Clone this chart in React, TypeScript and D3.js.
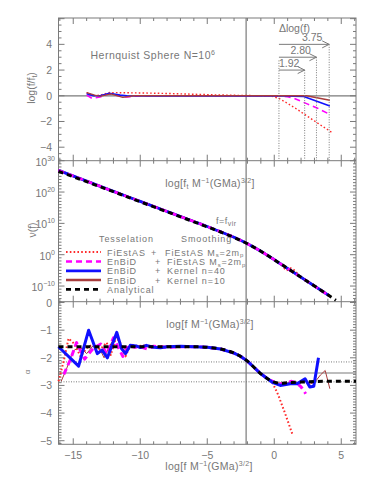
import React from "react";
import * as d3 from "d3";

/* ---- axis ticks ---- */
const X_LABELS = [-15, -10, -5, 0, 5];
const TOP_LABELS = [-4, -2, 0, 2, 4];
const MID_LABELS = [-10, 0, 10, 20, 30];
const BOT_LABELS = [-5, -4, -3, -2, -1, 0];

/* ---- top panel: log(f/f_t) ---- */
const R_RED_X = [-14, -13.5, -13, -12.3, -10, -8, -6, -4, -2, -0.3, 0.35, 1, 1.7, 2.27, 3.2, 4.3];
const R_RED = [0.25, 0.0, 0.05, 0.25, 0.22, 0.18, 0.12, 0.06, 0.02, 0.0, -0.2, -0.6, -1.05, -1.45, -2.1, -2.85];
const R_MAG_X = [-14, -13.6, -13, -12.4, -11.8, -11, -10, -6, 0, 1, 1.5, 2.5, 3.2, 4.15];
const R_MAG = [0.05, -0.2, -0.1, 0.15, 0.05, -0.1, 0.0, 0.0, 0.0, -0.08, -0.2, -0.65, -0.95, -1.45];
const R_BLUE_X = [-14, -13.5, -13, -12.3, -11.5, -11, -9, 0, 2.2, 4.15];
const R_BLUE = [0.15, 0.0, 0.0, 0.2, 0.05, 0.0, -0.02, 0.0, -0.05, -0.8];
const R_BROWN_X = [-14, -13.4, -13, -12.2, -11.3, -10.5, 0, 2.4, 4.15];
const R_BROWN = [0.25, 0.05, -0.05, 0.15, -0.12, 0.0, 0.0, 0.0, -0.35];

/* Δlog(f) markers */
const D_START = 0.35;
const D_VALUES = [1.92, 2.8, 3.75];
const D_LEVELS = [2, 3, 4];
const F_VIR = -2.1;

/* ---- middle panel: log10 nu(f) ---- */
const NU_X = [-16.1, -14, -12, -10, -8, -6, -5, -4, -3, -2, -1, 0, 1, 2, 3, 4, 4.6];
const NU_ANALYTIC = [26.6, 23.3, 20.1, 16.9, 13.7, 10.5, 8.9, 7.25, 5.5, 3.5, 1.1, -1.6, -4.4, -7.2, -10.0, -12.8, -14.5];
const NU_SIM_X = [-16.1, -14, -12, -10, -8, -6, -5, -4, -3, -2, -1, 0, 1, 2, 3, 4.1];
const NU_SIM = [26.9, 23.5, 20.2, 17.0, 13.8, 10.6, 9.0, 7.3, 5.55, 3.5, 1.1, -1.6, -4.4, -7.2, -10.0, -13.1];
const NU_RED_X = [-16.1, -14, -12, -10, -8, -6, -5, -4, -3, -2, -1, 0, 0.6, 0.9, 1.2, 2, 3, 4.1];
const NU_RED = [26.9, 23.5, 20.2, 17.0, 13.8, 10.6, 9.0, 7.3, 5.55, 3.5, 1.1, -1.6, -3.3, -5.0, -4.3, -7.2, -10.0, -13.1];

/* ---- bottom panel: alpha ---- */
const A_X = [-16.1, -10, -6, -5, -4, -3, -2.5, -2, -1.5, -1, -0.5, 0, 0.5, 1, 2, 3, 4, 5, 6.1];
const A_ANALYTIC = [-1.6, -1.6, -1.6, -1.62, -1.68, -1.83, -1.95, -2.12, -2.35, -2.58, -2.76, -2.88, -2.92, -2.9, -2.88, -2.86, -2.85, -2.85, -2.85];
const A_BLUE_X = [-16.1, -14.6, -13.85, -13.2, -12.85, -12.45, -11.75, -11.4, -11.1, -10.75, -10.3, -10, -9.55, -9, -8.5, -8, -7, -6, -5, -4, -3, -2.5, -2, -1.5, -1, -0.5, -0.1, 0.45, 1.2, 1.7, 2.3, 2.65, 2.95, 3.3];
const A_BLUE = [-1.6, -2.3, -1.0, -1.85, -1.72, -2.0, -1.08, -1.67, -1.85, -1.55, -1.57, -1.63, -1.55, -1.62, -1.64, -1.6, -1.58, -1.6, -1.62, -1.68, -1.83, -1.95, -2.12, -2.35, -2.58, -2.76, -2.9, -3.0, -2.94, -2.94, -2.76, -3.06, -3.03, -2.0];
const A_MAG_X = [-15.7, -15.2, -14.75, -14.15, -13.5, -12.95, -12.5, -12.0, -11.3, -10.9, -10.4, -10, -9.5, -9, -8.5, -8, -7, -6, -5, -4, -3, -2.5, -2, -1.5, -1, -0.5, 0, 0.5, 1, 1.3, 1.7, 2.0, 2.35];
const A_MAG = [-2.6, -2.05, -1.45, -2.05, -1.65, -1.5, -1.85, -1.28, -1.95, -1.55, -1.62, -1.6, -1.68, -1.58, -1.6, -1.62, -1.6, -1.6, -1.62, -1.68, -1.83, -1.95, -2.12, -2.35, -2.58, -2.76, -2.88, -2.95, -2.9, -2.85, -2.92, -3.05, -3.3];
const A_RED_X = [-16.1, -15.7, -15.35, -14.95, -14.45, -14.0, -13.5, -13.0, -12.5, -12.2, -11.8, -11.5, -11.1, -10.7, -10.3, -9.8, -9, -8, -7, -6, -5, -4, -3, -2.5, -2, -1.5, -1, -0.5, -0.15, 0.3, 0.8, 1.35];
const A_RED = [-2.85, -2.1, -1.3, -1.48, -1.95, -1.65, -1.5, -1.7, -1.45, -1.9, -1.25, -1.45, -1.95, -1.5, -1.6, -1.55, -1.6, -1.58, -1.6, -1.6, -1.62, -1.68, -1.83, -1.95, -2.12, -2.35, -2.58, -2.76, -2.88, -3.35, -4.0, -4.76];
const A_BROWN_X = [-15.9, -15.5, -15.0, -14.5, -14.0, -13.5, -13.0, -12.7, -12.2, -11.8, -11.3, -10.8, -10.3, -9.8, -9, -8, -7, -6, -5, -4, -3, -2.5, -2, -1.5, -1, -0.5, 0, 0.5, 1, 1.5, 2, 2.4, 2.7, 3.0, 3.45, 3.8, 4.15];
const A_BROWN = [-2.85, -2.4, -1.75, -1.6, -1.85, -1.55, -1.7, -2.0, -1.5, -1.2, -1.7, -1.6, -1.55, -1.6, -1.6, -1.6, -1.6, -1.6, -1.62, -1.68, -1.83, -1.95, -2.12, -2.35, -2.58, -2.76, -2.88, -2.92, -2.9, -2.9, -2.88, -2.85, -2.94, -2.9, -2.62, -2.46, -3.12];
const A_HLINES = [-2.15, -2.87];
const A_SOLID = -2.55;

/* ---- legend ---- */
const LEG_TESS = ["FiEstAS", "EnBiD", "EnBiD", "EnBiD", "Analytical"];
const LEG_SMOOTH = ["FiEstAS", "FiEstAS", "Kernel n=40", "Kernel n=10", ""];

const GREY = "#7a7a7a";
const TXT = "#777";
const FONT = "'Liberation Sans', Arial, sans-serif";
const FS = 10.5; // main text size
const FSL = 9; // legend text size
const SUB = 7; // sub/superscripts

const STY = {
  red: { stroke: "#ff2a2a", width: 1.8, dash: "1.6,2.2" },
  mag: { stroke: "#ff00ff", width: 2.6, dash: "6,4" },
  blue: { stroke: "#1010ff", width: 2.8, dash: null },
  brown: { stroke: "#a83c3c", width: 2.6, dash: null },
  black: { stroke: "#000", width: 2.8, dash: "5,4" },
};

const zip = (xs: number[], ys: number[]) => xs.map((x, i) => [x, ys[i]] as [number, number]);

export default function App() {
  const W = 374, H = 481;
  const L = 58.5, R = 356;
  const x = d3.scaleLinear().domain([-16.1, 6.1]).range([L, R]);
  const yTop = d3.scaleLinear().domain([-5.05, 6.05]).range([160.7, 18]);
  const yMid = d3.scaleLog().domain([1e-15, 1e30]).range([301.7, 160.7]);
  const yBot = d3.scaleLinear().domain([-5.13, 0.03]).range([444.3, 301.7]);

  const lineTop = d3.line<[number, number]>().x((d) => x(d[0])).y((d) => yTop(d[1]));
  const lineMid = d3.line<[number, number]>().x((d) => x(d[0])).y((d) => yMid(Math.pow(10, d[1]))).curve(d3.curveMonotoneX);
  const lineBot = d3.line<[number, number]>().x((d) => x(d[0])).y((d) => yBot(d[1]));
  const lineBotSmooth = d3.line<[number, number]>().x((d) => x(d[0])).y((d) => yBot(d[1])).curve(d3.curveMonotoneX);

  const path = (d: string | null, s: { stroke: string; width: number; dash: string | null }, w?: number) => (
    <path d={d || ""} fill="none" stroke={s.stroke} strokeWidth={w ?? s.width} strokeDasharray={s.dash || undefined} strokeLinejoin="round" />
  );

  /* x ticks for a panel: minor every unit, major at labels */
  const xTicks = (yT: number, yB: number) =>
    d3.range(-16, 7).map((v) => {
      const len = v % 5 === 0 ? 6 : 3;
      return (
        <g key={v}>
          <line x1={x(v)} x2={x(v)} y1={yB} y2={yB - len} stroke={GREY} />
          <line x1={x(v)} x2={x(v)} y1={yT} y2={yT + len} stroke={GREY} />
        </g>
      );
    });
  const yTicks = (vals: number[], sc: (v: number) => number, isMajor: (v: number) => boolean, key: string) =>
    vals.map((v, i) => {
      const len = isMajor(v) ? 6 : 3;
      const yy = sc(v);
      return (
        <g key={key + i}>
          <line x1={L} x2={L + len} y1={yy} y2={yy} stroke={GREY} />
          <line x1={R} x2={R - len} y1={yy} y2={yy} stroke={GREY} />
        </g>
      );
    });

  const topMinor = d3.range(-5, 6.01, 0.5);
  const midMinor = d3.range(-15, 30.01, 1);
  const botMinor = d3.range(-51, 1).map((v) => v / 10);

  const minus = (v: number) => (v < 0 ? "\u2212" + Math.abs(v) : String(v));
  const legRows = [STY.red, STY.mag, STY.blue, STY.brown, STY.black];
  const legY = [252, 261.5, 270.8, 280, 289.3];

  return (
    <svg width={W} height={H} style={{ position: "absolute", left: 0, top: 0, background: "#fff" }} fontFamily={FONT}>
      {/* ---- frames ---- */}
      <rect x={L} y={18} width={R - L} height={444.3 - 18} fill="none" stroke={GREY} />
      <line x1={L} x2={R} y1={160.7} y2={160.7} stroke={GREY} />
      <line x1={L} x2={R} y1={301.7} y2={301.7} stroke={GREY} />

      {xTicks(18, 160.7)}
      {xTicks(160.7, 301.7)}
      {xTicks(301.7, 444.3)}
      {yTicks(topMinor, yTop, (v) => Math.abs(v % 2) < 1e-6, "t")}
      {yTicks(midMinor, (v) => yMid(Math.pow(10, v)), (v) => v % 10 === 0, "m")}
      {yTicks(botMinor, yBot, (v) => Math.abs(v - Math.round(v)) < 1e-6, "b")}

      {/* vertical f_vir line */}
      <line x1={x(F_VIR)} x2={x(F_VIR)} y1={18} y2={444.3} stroke={GREY} strokeWidth={1.2} />

      {/* ---- top panel ---- */}
      <line x1={L} x2={R} y1={yTop(0)} y2={yTop(0)} stroke={GREY} strokeWidth={1.2} />
      {path(lineTop(zip(R_RED_X, R_RED)), STY.red, 1.4)}
      {path(lineTop(zip(R_MAG_X, R_MAG)), STY.mag, 1.6)}
      {path(lineTop(zip(R_BLUE_X, R_BLUE)), STY.blue, 1.6)}
      {path(lineTop(zip(R_BROWN_X, R_BROWN)), STY.brown, 1.4)}
      {/* delta markers */}
      <line x1={x(D_START)} x2={x(D_START)} y1={yTop(2.75)} y2={160.7} stroke={GREY} strokeDasharray="1,1.5" />
      {D_VALUES.map((dv, i) => {
        const xe = x(D_START + dv);
        const yy = yTop(D_LEVELS[i]);
        return (
          <g key={"d" + i}>
            <line x1={xe} x2={xe} y1={yy} y2={160.7} stroke={GREY} strokeDasharray="1,1.5" />
            <line x1={x(D_START)} x2={xe} y1={yy} y2={yy} stroke={GREY} />
            <path d={`M${xe - 7},${yy - 3.5} L${xe},${yy} L${xe - 7},${yy + 3.5}`} fill="none" stroke={GREY} />
            <text x={x(D_START) + i * 11.5} y={yy - 3} fontSize={FS} fill={TXT}>{dv.toFixed(2)}</text>
          </g>
        );
      })}
      <text x={x(D_START)} y={32} fontSize={FS} fill={TXT}>Δlog(f)</text>
      <text x={90.5} y={58.5} fontSize={FS} fill={TXT} letterSpacing={0.5}>
        Hernquist Sphere N=10<tspan dy={-4} fontSize={SUB}>6</tspan>
      </text>

      {/* ---- middle panel ---- */}
      {path(lineMid(zip(NU_RED_X, NU_RED)), STY.red)}
      {path(lineMid(zip(NU_SIM_X, NU_SIM)), STY.brown, 2.4)}
      {path(lineMid(zip(NU_SIM_X, NU_SIM)), STY.blue)}
      {path(lineMid(zip(NU_SIM_X, NU_SIM)), STY.mag)}
      {path(lineMid(zip(NU_X, NU_ANALYTIC)), STY.black, 3)}
      <text x={210} y={187} fontSize={FS} fill={TXT} textAnchor="middle" letterSpacing={0.3}>
        log[f<tspan dy={2} fontSize={SUB}>t</tspan><tspan dy={-2}> M</tspan><tspan dy={-4} fontSize={SUB}>−1</tspan><tspan dy={4}>(GMa)</tspan><tspan dy={-4} fontSize={SUB}>3/2</tspan><tspan dy={4}>]</tspan>
      </text>
      <text x={216} y={224} fontSize={FSL} fill={TXT} letterSpacing={0.5}>
        f=f<tspan dy={2} fontSize={SUB}>vir</tspan>
      </text>
      {/* legend */}
      <text x={99} y={242} fontSize={FSL} fill={TXT} letterSpacing={0.9}>Tesselation</text>
      <text x={181} y={242} fontSize={FSL} fill={TXT} letterSpacing={0.9}>Smoothing</text>
      {legRows.map((s, i) => (
        <g key={"l" + i}>
          <line x1={66} x2={101} y1={legY[i]} y2={legY[i]} stroke={s.stroke} strokeWidth={s.width} strokeDasharray={s.dash || undefined} />
          <text x={107} y={legY[i] + 3.5} fontSize={FSL} fill={TXT} letterSpacing={0.9}>{LEG_TESS[i]}</text>
          {LEG_SMOOTH[i] && <text x={i === 0 ? 151 : 155} y={legY[i] + 3.5} fontSize={FSL} fill={TXT}>+</text>}
          {LEG_SMOOTH[i] && (
            <text x={i === 0 ? 165 : 167} y={legY[i] + 3.5} fontSize={FSL} fill={TXT} letterSpacing={0.9}>
              {LEG_SMOOTH[i]}
              {LEG_SMOOTH[i] === "FiEstAS" && (
                <>
                  <tspan> M</tspan><tspan dy={1.5} fontSize={6}>s</tspan><tspan dy={-1.5}>=2m</tspan><tspan dy={1.5} fontSize={6}>p</tspan>
                </>
              )}
            </text>
          )}
        </g>
      ))}

      {/* ---- bottom panel ---- */}
      {A_HLINES.map((v) => (
        <line key={"h" + v} x1={L} x2={R} y1={yBot(v)} y2={yBot(v)} stroke={GREY} strokeDasharray="1,1.5" />
      ))}
      <line x1={L} x2={R} y1={yBot(A_SOLID)} y2={yBot(A_SOLID)} stroke={GREY} strokeWidth={1.2} />
      {path(lineBot(zip(A_BROWN_X, A_BROWN)), STY.brown, 1)}
      {path(lineBot(zip(A_RED_X, A_RED)), STY.red, 2)}
      {path(lineBot(zip(A_MAG_X, A_MAG)), STY.mag, 3)}
      {path(lineBot(zip(A_BLUE_X, A_BLUE)), STY.blue, 3)}
      {path(lineBotSmooth(zip(A_X, A_ANALYTIC)), STY.black, 3)}
      <text x={210} y={328} fontSize={FS} fill={TXT} textAnchor="middle" letterSpacing={0.3}>
        log[f M<tspan dy={-4} fontSize={SUB}>−1</tspan><tspan dy={4}>(GMa)</tspan><tspan dy={-4} fontSize={SUB}>3/2</tspan><tspan dy={4}>]</tspan>
      </text>

      {/* ---- axis labels ---- */}
      {TOP_LABELS.map((v) => (
        <text key={"tl" + v} x={52} y={yTop(v) + 4} fontSize={FS} fill={TXT} textAnchor="end">{minus(v)}</text>
      ))}
      {MID_LABELS.map((v) => (
        <text key={"ml" + v} x={55} y={yMid(Math.pow(10, v)) + 5} fontSize={FS} fill={TXT} textAnchor="end">
          10<tspan dy={-5} fontSize={SUB}>{minus(v)}</tspan>
        </text>
      ))}
      {BOT_LABELS.map((v) => (
        <text key={"bl" + v} x={52} y={yBot(v) + 4} fontSize={FS} fill={TXT} textAnchor="end">{minus(v)}</text>
      ))}
      {X_LABELS.map((v) => (
        <text key={"xl" + v} x={x(v)} y={459} fontSize={FS} fill={TXT} textAnchor="middle">{minus(v)}</text>
      ))}
      <text x={209} y={470} fontSize={FS} fill={TXT} textAnchor="middle" letterSpacing={0.3}>
        log[f M<tspan dy={-4} fontSize={SUB}>−1</tspan><tspan dy={4}>(GMa)</tspan><tspan dy={-4} fontSize={SUB}>3/2</tspan><tspan dy={4}>]</tspan>
      </text>
      <text transform="translate(35,88) rotate(-90)" fontSize={FS} fill={TXT} textAnchor="middle">
        log(f/f<tspan dy={2} fontSize={SUB}>t</tspan><tspan dy={-2}>)</tspan>
      </text>
      <text transform="translate(36,230) rotate(-90)" fontSize={FS} fill={TXT} textAnchor="middle">ν(f)</text>
      <text transform="translate(30,372) rotate(-90)" fontSize={8} fill={TXT} textAnchor="middle">α</text>
    </svg>
  );
}
